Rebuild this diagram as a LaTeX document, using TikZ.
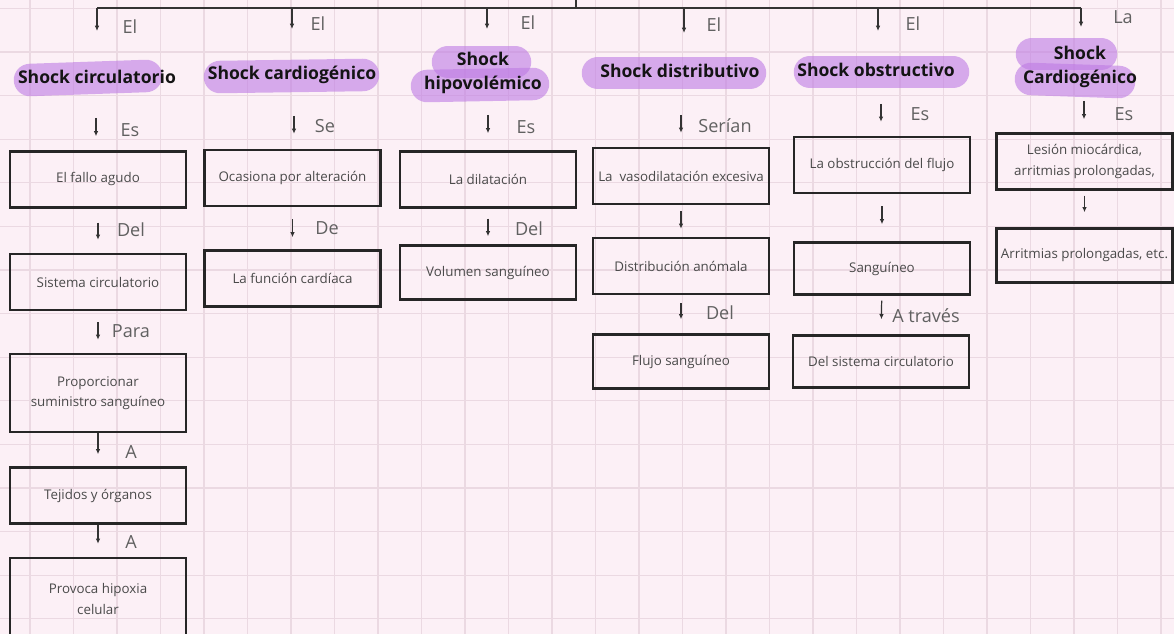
\documentclass[tikz,border=0pt]{standalone}
\usepackage{fontspec}
\setmainfont{Open Sans}
\usetikzlibrary{arrows.meta}
\definecolor{paper}{HTML}{FCF0F6}
\definecolor{gridpink}{HTML}{EBD9E2}
\definecolor{marker}{RGB}{190,123,228}
\definecolor{inkgray}{HTML}{4A4A4A}
\begin{document}
\begin{tikzpicture}[x=0.02cm,y=-0.02cm]
	\tikzstyle{every node}+=[inner sep=0pt]
	\tikzstyle{box}=[draw=black!85,line width=1.4pt,minimum width=3.52cm,minimum height=1.12cm,align=center,text=inkgray,font=\fontsize{7.6}{11.5}\selectfont]
	\tikzstyle{hdr}=[align=center,text=black!92,font=\fontsize{10}{13.6}\selectfont\bfseries]
	\tikzstyle{lbl}=[text=black!62,font=\fontsize{10.3}{12}\selectfont]
	\tikzstyle{link}=[draw=black!80,line width=0.7pt,-{Latex[length=3pt,width=2.6pt]}]
	\tikzstyle{hilite}=[marker,opacity=0.6,line width=0.65cm,line cap=round]
	\useasboundingbox (0,0) rectangle (1174,634);
	\fill [paper] (0,0) rectangle (1174,634);
	\foreach \i in {0,...,26}
		\draw [gridpink,line width=0.7pt] (30+43.5*\i,0) -- (30+43.5*\i,634);
	\foreach \j in {0,...,14}
		\draw [gridpink,line width=0.7pt] (0,8.4+43.6*\j) -- (1174,8.4+43.6*\j);
	\draw [hilite] (30,80) -- (146,76);
	\draw [hilite] (220,77) -- (363,75);
	\draw [hilite] (448,62) -- (515,62);
	\draw [hilite] (427,86) -- (533,84);
	\draw [hilite] (598,73) -- (750,73);
	\draw [hilite] (810,72) -- (953,72);
	\draw [hilite] (1032,54) -- (1101,54);
	\draw [hilite] (1031,79) -- (1119,82);
	\coordinate (top) at (576,0);
	\coordinate (k1) at (97,8);
	\coordinate (k2) at (292,8);
	\coordinate (k3) at (487,8);
	\coordinate (k4) at (684,8);
	\coordinate (k5) at (878,8);
	\coordinate (k6) at (1081,8);
	\coordinate (e1) at (97,31);
	\coordinate (e2) at (292,29);
	\coordinate (e3) at (487,29);
	\coordinate (e4) at (684,33);
	\coordinate (e5) at (878,31);
	\coordinate (e6) at (1081,27);
	\draw [draw=black!80,line width=0.8pt] (k1) -- (k6);
	\draw [draw=black!80,line width=0.8pt] (top) -- (top |- k1);
	\foreach \c in {1,...,6}
		\draw [link] (k\c) -- (e\c);
	\node [lbl] (t1) at (130,27) {El};
	\node [lbl] (t2) at (318,24) {El};
	\node [lbl] (t3) at (528,23) {El};
	\node [lbl] (t4) at (714,25) {El};
	\node [lbl] (t5) at (913,24) {El};
	\node [lbl] (t6) at (1123,17) {La};
	\node [hdr] (h1) at (97,77) {Shock circulatorio};
	\node [hdr] (h2) at (292,75) {Shock cardiogénico};
	\node [hdr] (h3) at (483,73) {Shock\\hipovolémico};
	\node [hdr] (h4) at (680,71) {Shock distributivo};
	\node [hdr] (h5) at (876,70) {Shock obstructivo};
	\node [hdr] (h6) at (1080,67) {Shock\\Cardiogénico};
	\node [box] (b11) at (98,179.5) {El fallo agudo};
	\node [box] (b12) at (98,282) {Sistema circulatorio};
	\node [box,minimum height=1.56cm] (b13) at (98,393) {Proporcionar\\suministro sanguíneo};
	\node [box] (b14) at (98,495.5) {Tejidos y órganos};
	\node [box,minimum height=1.64cm] (b15) at (98,599) {Provoca hipoxia\\celular};
	\node [box] (b21) at (292.5,178) {Ocasiona por alteración};
	\node [box] (b22) at (292.5,278.5) {La función cardíaca};
	\node [box] (b31) at (488,179.5) {La dilatación};
	\node [box,minimum height=1.08cm] (b32) at (488,272.5) {Volumen sanguíneo};
	\node [box] (b41) at (681,176) {La \ vasodilatación excesiva};
	\node [box] (b42) at (681,266) {Distribución anómala};
	\node [box,minimum height=1.08cm] (b43) at (681,361.5) {Flujo sanguíneo};
	\node [box] (b51) at (882,165) {La obstrucción del flujo};
	\node [box,minimum height=1.04cm] (b52) at (882,268.5) {Sanguíneo};
	\node [box,minimum height=1.04cm] (b53) at (881,361.5) {Del sistema circulatorio};
	\node [box] (b61) at (1084.5,161.5) {Lesión miocárdica,\\arritmias prolongadas,};
	\node [box,minimum height=1.08cm] (b62) at (1084.5,255.5) {Arritmias prolongadas, etc.};
	\coordinate (s1) at (96,118);
	\coordinate (s2) at (294,116);
	\coordinate (s3) at (488,115);
	\coordinate (s4) at (681,115);
	\coordinate (s5) at (881,104);
	\coordinate (s6) at (1084,101);
	\draw [link,shorten >=0.28cm] (s1) -- (s1 |- b11.north);
	\draw [link,shorten >=0.3cm] (s2) -- (s2 |- b21.north);
	\draw [link,shorten >=0.34cm] (s3) -- (s3 |- b31.north);
	\draw [link,shorten >=0.28cm] (s4) -- (s4 |- b41.north);
	\draw [link,shorten >=0.28cm] (s5) -- (s5 |- b51.north);
	\draw [link,shorten >=0.26cm] (s6) -- (s6 |- b61.north);
	\node [lbl] (l1) at (130,130) {Es};
	\node [lbl] (l2) at (325,126) {Se};
	\node [lbl] (l3) at (526,127) {Es};
	\node [lbl] (l4) at (725,126) {Serían};
	\node [lbl] (l5) at (920,114) {Es};
	\node [lbl] (l6) at (1124,114) {Es};
	\draw [link,shorten <=0.28cm,shorten >=0.26cm] (b11) -- (b12);
	\draw [link,shorten <=0.22cm,shorten >=0.26cm] (b12) -- (b13);
	\draw [link,shorten >=0.24cm] (b13) -- (b14);
	\draw [link,shorten >=0.26cm] (b14) -- (b15);
	\draw [link,shorten <=0.24cm,shorten >=0.24cm] (b21) -- (b22);
	\draw [link,shorten <=0.2cm,shorten >=0.16cm] (b31) -- (b32);
	\draw [link,shorten <=0.12cm,shorten >=0.16cm] (b41) -- (b42);
	\draw [link,shorten <=0.16cm,shorten >=0.28cm] (b42) -- (b43);
	\draw [link,shorten <=0.24cm,shorten >=0.34cm] (b51) -- (b52);
	\draw [link,shorten <=0.1cm,shorten >=0.3cm] (b52) -- (b53);
	\draw [link,shorten <=0.1cm,shorten >=0.3cm] (b61) -- (b62);
	\node [lbl] (m1) at (131,230) {Del};
	\node [lbl] (m2) at (131,331) {Para};
	\node [lbl] (m3) at (131,452) {A};
	\node [lbl] (m4) at (131,542) {A};
	\node [lbl] (m5) at (327,228) {De};
	\node [lbl] (m6) at (529,229) {Del};
	\node [lbl] (m7) at (720,313) {Del};
	\node [lbl] (m8) at (926,316) {A través};
\end{tikzpicture}
\end{document}
